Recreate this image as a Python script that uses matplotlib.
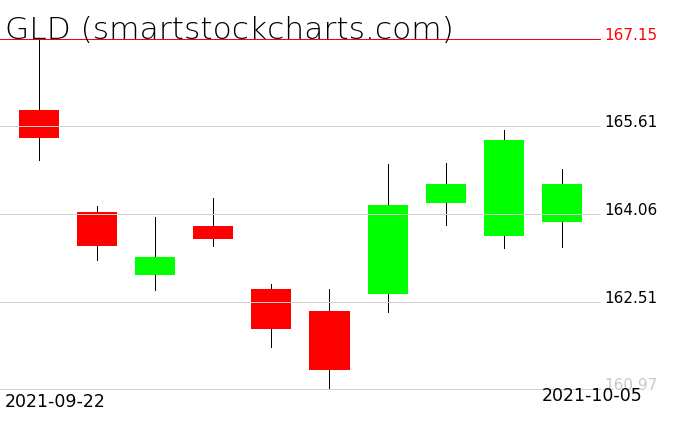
import matplotlib
matplotlib.use("Agg")
import matplotlib.pyplot as plt
import numpy as np

# GLD daily candles
dates = ["2021-09-22", "2021-09-23", "2021-09-24", "2021-09-27", "2021-09-28",
         "2021-09-29", "2021-09-30", "2021-10-01", "2021-10-04", "2021-10-05"]
opens = [165.90, 164.09, 162.98, 163.85, 162.73, 162.34, 162.65, 164.26, 163.67, 163.92]
highs = [167.15, 164.20, 164.00, 164.35, 162.82, 162.73, 164.94, 164.96, 165.54, 164.85]
lows = [165.02, 163.25, 162.72, 163.50, 161.71, 160.97, 162.33, 163.87, 163.46, 163.48]
closes = [165.41, 163.49, 163.30, 163.62, 162.03, 161.31, 164.22, 164.59, 165.37, 164.59]

levels = [167.15, 165.61, 164.06, 162.51, 160.97]
level_colors = ["#ff0000", "black", "black", "black", "#c8c8c8"]

W, H = 676, 431
fig = plt.figure(figsize=(W / 100, H / 100), dpi=100)
ax = fig.add_axes([0, 1 - 390 / H, 600 / W, 350 / H])

x = np.arange(len(dates))
o = np.array(opens)
c = np.array(closes)
up = c >= o
colors = np.where(up, "#00ff00", "#ff0000")

px = 0.72  # one pixel in points

ax.vlines(x, lows, highs, color="black", linewidth=px, zorder=1,
          clip_on=False, antialiased=False)
ax.bar(x, np.abs(c - o), bottom=np.minimum(o, c), width=0.69, color=colors,
       linewidth=0, zorder=2, antialiased=False)

for i, lv in enumerate(levels):
    line_col = "#ff0000" if i == 0 else "#d0d0d0"
    ax.axhline(lv, color=line_col, linewidth=px, zorder=3, clip_on=False,
               antialiased=False)
    ax.text(1.007, lv, "%.2f" % lv, transform=ax.get_yaxis_transform(),
            ha="left", va="baseline", fontsize=11,
            color=level_colors[i], clip_on=False)

ax.set_xlim(-0.671, 9.656)
ax.set_ylim(levels[-1], levels[0])
ax.axis("off")

fig.text(5 / W, 1 - 39 / H, "GLD (smartstockcharts.com)", fontsize=22.5,
         fontweight="light", color="black", ha="left", va="baseline")
fig.text(5 / W, 1 - 407 / H, dates[0], fontsize=12.5, ha="left", va="baseline")
fig.text(542 / W, 1 - 401 / H, dates[-1], fontsize=12.5, ha="left", va="baseline")

fig.savefig("out.png", dpi=100)
